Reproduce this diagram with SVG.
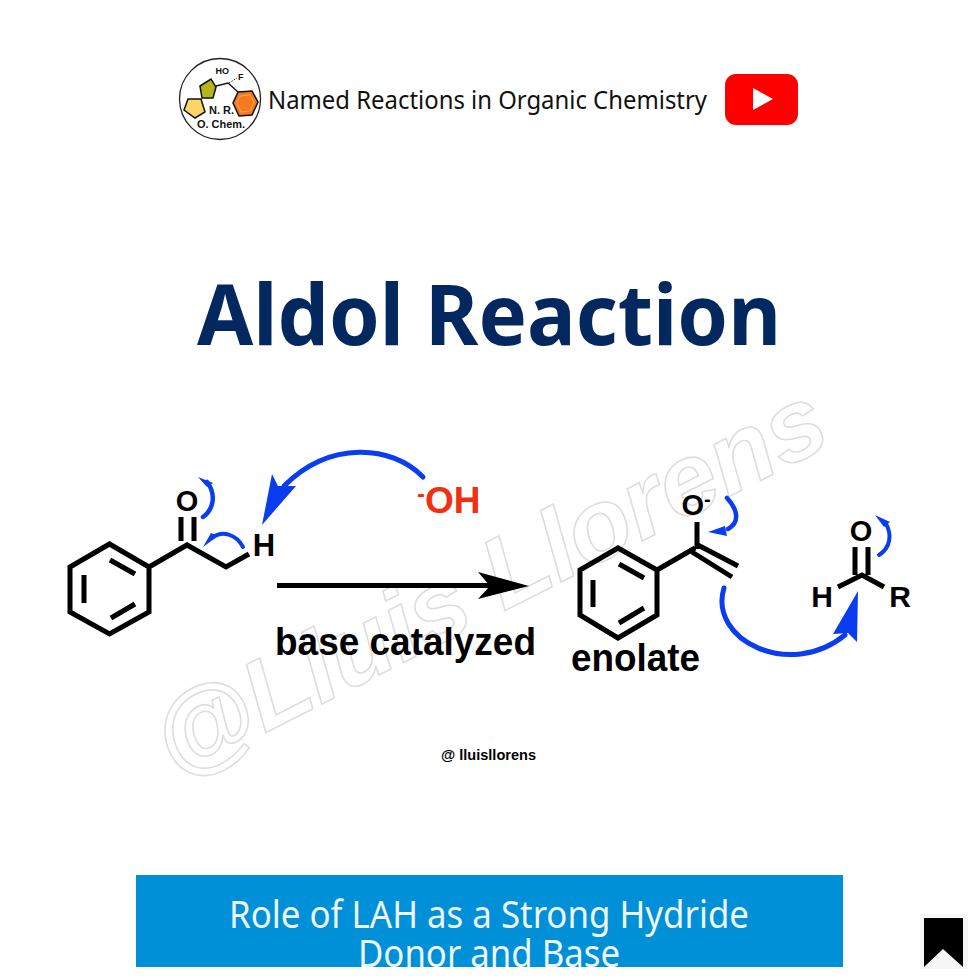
<svg xmlns="http://www.w3.org/2000/svg" width="979" height="979" viewBox="0 0 979 979">
<style>
.b{fill:none;stroke:#000;stroke-width:5;stroke-linecap:butt;stroke-linejoin:miter}
.a{fill:none;stroke:#0a3cf0;stroke-linecap:round}
.h{fill:#0a3cf0}
.t{font-family:"Liberation Sans",Arial,sans-serif;font-weight:700;fill:#000}
.n{font-family:"Noto Sans","Open Sans",sans-serif}
.l{font-family:"Liberation Sans",Arial,sans-serif;font-weight:700;fill:#111}
</style>
<defs><clipPath id="bc"><rect x="136" y="875" width="707" height="92"/></clipPath></defs>
<rect width="979" height="979" fill="#fff"/>
<g id="watermark"><text x="0" y="0" transform="translate(175 779) rotate(-27)" font-family="Liberation Sans,Arial,sans-serif" font-style="italic" font-weight="700" font-size="101" fill="#fff" stroke="#dedede" stroke-width="1.6" textLength="740" lengthAdjust="spacingAndGlyphs">@Lluis Llorens</text></g>
<g id="logo">
<circle cx="220" cy="99" r="40.500" fill="#fff" stroke="#222" stroke-width="1.300"/>
<path d="M188 99L201 99L205 112L195 118L184 110Z" fill="#fbd566" stroke="#111" stroke-width="1.500"/>
<path d="M200 86L211 79L216 87L213 98L202 98Z" fill="#b5b520" stroke="#111" stroke-width="1.500"/>
<path d="M216 86L228 83L238 92" fill="none" stroke="#111" stroke-width="1.300"/>
<path d="M238 92L252 91L258 102L252 115L239 116L233 103Z" fill="#f37a1e" stroke="#111" stroke-width="1.500"/>
<path d="M240 96L250 95L254 102L250 111L241 112L237 103Z" fill="none" stroke="#ffb060" stroke-width="0.800"/>
<path d="M229 83L237 78" fill="none" stroke="#111" stroke-width="1" stroke-dasharray="1 1"/>
<text class="l" x="215.500" y="74" font-size="9">HO</text>
<text class="l" x="238" y="80" font-size="9">F</text>
<text class="l" x="209" y="114" font-size="11">N. R.</text>
<text class="l" x="197" y="127.500" font-size="10.500" textLength="48" lengthAdjust="spacingAndGlyphs">O. Chem.</text>
</g>
<g id="header"><text class="n" x="268" y="109" font-size="26" fill="#111" textLength="439" lengthAdjust="spacingAndGlyphs">Named Reactions in Organic Chemistry</text></g>
<g id="youtube"><rect x="725" y="74" width="73" height="51" rx="11" fill="#fe0000"/><path d="M753 88L753 110L773 99Z" fill="#fff"/></g>
<g id="title"><text class="n" x="197" y="345" font-size="85" font-weight="700" fill="#03275f" textLength="584" lengthAdjust="spacingAndGlyphs">Aldol Reaction</text></g>
<g id="ketone">
<path class="b" d="M109.500 544L149 567L149 612L109.500 634L70 612L70 567ZM110 560L135 574M84 575L84 603M111 618L135 604M149 567L187 545L226 567L249 554M181 517L181 541M194 517L194 541"/>
<text class="t" x="187" y="511" font-size="29" text-anchor="middle">O</text>
<text class="t" x="264" y="556" font-size="31" text-anchor="middle">H</text>
</g>
<g id="hydroxide"><text class="t" x="417" y="513" font-size="37" style="fill:#f03010"><tspan font-size="24" dy="-11">-</tspan><tspan dy="11">OH</tspan></text></g>
<g id="reaction-label"><text class="t" x="275" y="655" font-size="38" textLength="261" lengthAdjust="spacingAndGlyphs">base catalyzed</text></g>
<g id="enolate">
<path class="b" d="M618 548L657 570L657 615L618 638L580 615L580 570ZM619 564L644 578M593 580L593 607M619 623L644 608M657 570L695 548M697 522L697 549M696 544L738 566M692 552L732 577"/>
<text class="t" x="696" y="515" font-size="29" text-anchor="middle">O<tspan font-size="20" dy="-9">-</tspan></text>
<text class="t" x="571" y="671" font-size="38" textLength="129" lengthAdjust="spacingAndGlyphs">enolate</text>
</g>
<g id="aldehyde">
<path class="b" d="M838 587L862 575L884 587M855 547L855 575M868 547L868 575"/>
<text class="t" x="861" y="541" font-size="29" text-anchor="middle">O</text>
<text class="t" x="822" y="607" font-size="30" text-anchor="middle">H</text>
<text class="t" x="900" y="607" font-size="30" text-anchor="middle">R</text>
</g>
<g id="credit"><text class="t" x="441" y="760" font-size="15" textLength="95" lengthAdjust="spacingAndGlyphs">@ lluisllorens</text></g>
<g id="connectors">
<path d="M277 585.500H490" stroke="#000" stroke-width="5" fill="none"/>
<path d="M478 572L529 586L478 599L490 586Z" fill="#000"/>
<path class="a" stroke-width="5" d="M423 477C392 445 330 440 284 486"/>
<path class="h" d="M262 525L272 474L278 486L296 486Z"/>
<path class="a" stroke-width="4.500" d="M203 517C213 510 217 495 207 482"/>
<path class="h" d="M198 477L213 483L207 487Z"/>
<path class="a" stroke-width="4" d="M243 547C236 534 222 530 212 538"/>
<path class="h" d="M203 547L211 533L218 536Z"/>
<path class="a" stroke-width="4.500" d="M727 498C738 510 740 522 728 529"/>
<path class="h" d="M708 532L725 526L727 536Z"/>
<path class="a" stroke-width="5" d="M724 588C708 640 790 680 845 635"/>
<path class="h" d="M858 591L857 642L848 633L833 634Z"/>
<path class="a" stroke-width="4" d="M879 555C890 548 893 535 885 522"/>
<path class="h" d="M875 515L890 522L884 527Z"/>
</g>
<g id="banner">
<rect x="136" y="875" width="707" height="92" fill="#0090d8"/>
<g clip-path="url(#bc)" class="n" font-size="38" fill="#eef7fc" text-anchor="middle">
<text x="489" y="928" textLength="520" lengthAdjust="spacingAndGlyphs">Role of LAH as a Strong Hydride</text>
<text x="489" y="967" textLength="262" lengthAdjust="spacingAndGlyphs">Donor and Base</text>
</g>
</g>
<g id="bookmark">
<rect x="920" y="914" width="48" height="55" fill="#f7f7f7"/>
<path d="M924 918H963V967L943 949L924 967Z" fill="#000"/>
</g>
</svg>
